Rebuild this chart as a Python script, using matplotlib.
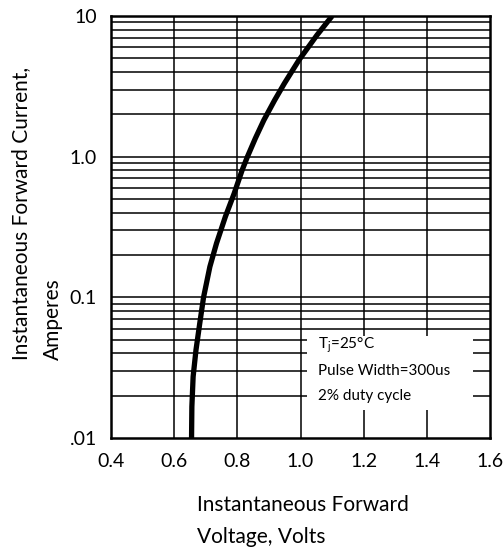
import matplotlib
matplotlib.use("Agg")
import matplotlib.pyplot as plt
from matplotlib.patches import Rectangle

plt.rcParams['font.family'] = ['Lato', 'DejaVu Sans']
plt.rcParams['mathtext.fontset'] = 'custom'
plt.rcParams['mathtext.rm'] = 'Lato'

# forward curve (amps, volts)
current = [0.01, 0.0167, 0.0273, 0.0422, 0.0654, 0.1, 0.165, 0.242, 0.374,
           0.548, 0.80, 1.0, 1.35, 1.82, 2.52, 3.32, 4.86, 7.31, 10.0]
voltage = [0.655, 0.656, 0.660, 0.669, 0.681, 0.693, 0.713, 0.734, 0.762,
           0.790, 0.815, 0.832, 0.857, 0.884, 0.918, 0.949, 0.995, 1.052, 1.10]

xticks = [0.4, 0.6, 0.8, 1.0, 1.2, 1.4, 1.6]
xticklabels = ['0.4', '0.6', '0.8', '1.0', '1.2', '1.4', '1.6']
yticks = [0.01, 0.1, 1.0, 10.0]
yticklabels = ['.01', '0.1', '1.0', '10']

fig = plt.figure(figsize=(5.03, 5.54), dpi=100)
ax = fig.add_axes([0.2207, 0.2094, 0.7535, 0.7617])

ax.set_yscale('log')
ax.set_xlim(0.4, 1.6)
ax.set_ylim(0.01, 10)

# grid: every 0.2 V and every 1..9 of each decade
for x in xticks[1:-1]:
    ax.axvline(x, color='black', lw=1.1, zorder=0.5)
for dec in [0.01, 0.1, 1.0]:
    for k in range(2, 10):
        ax.axhline(dec * k, color='black', lw=1.1, zorder=0.5)
for y in yticks[1:-1]:
    ax.axhline(y, color='black', lw=1.1, zorder=0.5)

# blank area behind the conditions note
ax.add_patch(Rectangle((1.02, 0.0159), 1.546 - 1.02, 0.0533 - 0.0159,
                       facecolor='white', edgecolor='none', zorder=1))

ax.plot(voltage, current, color='black', lw=3.8, zorder=3,
        solid_capstyle='butt', solid_joinstyle='round')

ax.text(1.055, 0.0455, 'T$_\\mathregular{j}$=25°C', fontsize=11, va='center', zorder=4)
ax.text(1.055, 0.030, 'Pulse Width=300us', fontsize=11, va='center', zorder=4)
ax.text(1.055, 0.0200, '2% duty cycle', fontsize=11, va='center', zorder=4)

ax.set_xticks(xticks)
ax.set_xticklabels(xticklabels, fontsize=14)
ax.set_yticks(yticks)
ax.set_yticklabels(yticklabels, fontsize=14)
ax.yaxis.set_minor_locator(matplotlib.ticker.NullLocator())
ax.tick_params(length=0, pad=10)
ax.tick_params(axis='x', pad=11)

for s in ax.spines.values():
    s.set_linewidth(1.8)

fig.text(197 / 503, 1 - 521 / 554, 'Instantaneous Forward\nVoltage, Volts',
         fontsize=15, ha='left', va='center', linespacing=1.75)
fig.text(37 / 503, 1 - 360 / 554, 'Instantaneous Forward Current,\nAmperes',
         fontsize=15, ha='center', va='bottom', rotation=90,
         multialignment='left', linespacing=1.75)

fig.savefig('out.png', dpi=100)
